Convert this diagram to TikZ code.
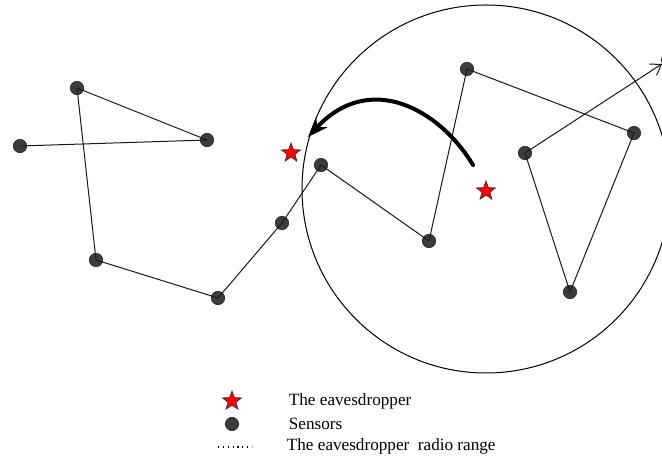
\documentclass[tikz,border=0pt]{standalone}
\usepackage{fontspec}
\setmainfont{Liberation Serif}
\usetikzlibrary{shapes.geometric,arrows.meta}
\definecolor{sensorgray}{RGB}{60,60,60}
\begin{document}
\begin{tikzpicture}[x=0.021cm,y=-0.021cm,
  sensor/.style={circle, draw=black!85, fill=sensorgray, inner sep=0pt, minimum size=8pt},
  spy/.style={star, star points=5, star point ratio=2.4, draw=black!80, fill=red, inner sep=0pt, minimum size=12pt},
  link/.style={line width=0.6pt, black!90},
  legend/.style={anchor=west, font=\fontsize{10.25}{12}\selectfont}]
\useasboundingbox (0,0) rectangle (662,461);
\clip (0,0) rectangle (662,461);
% radio range of the eavesdropper
\node[circle, draw, line width=0.6pt, minimum size=368*0.021cm, inner sep=0pt] (range) at (486,189){};
% sensors
\node[sensor] (s1) at (77,88){};
\node[sensor] (s2) at (207,140){};
\node[sensor] (s3) at (20,146){};
\node[sensor] (s4) at (96,260){};
\node[sensor] (s5) at (218,298){};
\node[sensor] (s6) at (282,223){};
\node[sensor] (s7) at (321,165){};
\node[sensor] (s8) at (429,241){};
\node[sensor] (s9) at (467,69){};
\node[sensor] (s10) at (634,133){};
\node[sensor] (s11) at (525,153){};
\node[sensor] (s12) at (570,292){};
\node[sensor] (s13) at (668,60){};
\draw[link](s3.center) -- (s2.center);
\draw[link](s2.center) -- (s1.center);
\draw[link](s1.center) -- (s4.center);
\draw[link](s4.center) -- (s5.center);
\draw[link](s5.center) -- (s6.center);
\draw[link](s6.center) -- (s7.center);
\draw[link](s7.center) -- (s8.center);
\draw[link](s8.center) -- (s9.center);
\draw[link](s9.center) -- (s10.center);
\draw[link](s10.center) -- (s12.center);
\draw[link](s12.center) -- (s11.center);
\draw[link, -{Straight Barb[length=6pt,width=8pt]}](s11.center) -- (s13);
% eavesdropper and its move
\node[spy] (e1) at (291,153){};
\node[spy] (e2) at (486,191){};
\coordinate (mvstart) at (473,165);
\coordinate (mvend) at (308,137);
\draw[line width=2.4pt, line cap=round, -{Stealth[length=12pt,width=9pt]}](mvstart) .. controls (440,110) and (370,70) .. (mvend);
% legend
\node[spy] (lspy) at (232,401){};
\node[legend] (lspytxt) at (283,401){The eavesdropper};
\node[sensor] (lsen) at (232,424){};
\node[legend] (lsentxt) at (283,424){Sensors};
\coordinate (ldot1) at (218,447);
\coordinate (ldot2) at (252,447);
\draw[line width=0.7pt, dash pattern=on 0.7pt off 2.2pt](ldot1) -- (ldot2);
\node[legend] (ldottxt) at (281,446){The eavesdropper\ \ radio range};
\end{tikzpicture}
\end{document}
